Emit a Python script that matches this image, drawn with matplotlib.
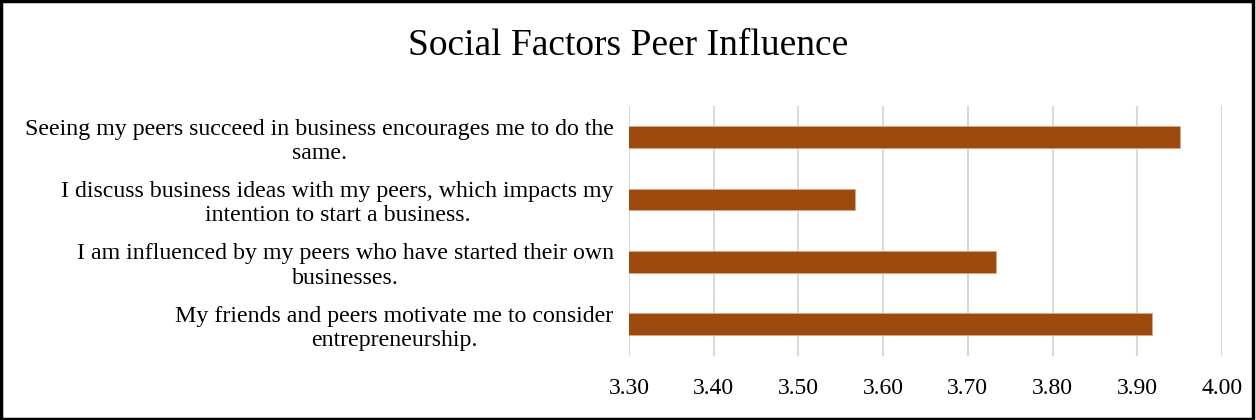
import matplotlib
matplotlib.use("Agg")
import matplotlib.pyplot as plt
from matplotlib.patches import Rectangle

categories = [
    "Seeing my peers succeed in business encourages me to do the\nsame.",
    "I discuss business ideas with my peers, which impacts my\nintention to start a business.",
    "I am influenced by my peers who have started their own\nbusinesses.",
    "My friends and peers motivate me to consider\nentrepreneurship.",
]
values = [3.95, 3.567, 3.733, 3.917]
xticks = [3.30, 3.40, 3.50, 3.60, 3.70, 3.80, 3.90, 4.00]
title = "Social Factors Peer Influence"

plt.rcParams["font.family"] = ["Liberation Serif", "DejaVu Serif"]

fig = plt.figure(figsize=(12.56, 4.2), dpi=100)
ax = fig.add_axes([629 / 1256, 1 - 355.5 / 420, (1222 - 629) / 1256, (355.5 - 106) / 420])

y = list(range(len(categories)))
ax.barh(y, values, height=0.347, color="#9c4a0e", edgecolor="#d9a77c", linewidth=0.6, zorder=3)
ax.set_ylim(len(categories) - 0.5, -0.5)
ax.set_xlim(xticks[0], xticks[-1])
ax.set_xticks(xticks)
ax.set_xticklabels([f"{t:.2f}" for t in xticks], fontsize=17)
ax.set_yticks(y)
ax.set_yticklabels(categories, fontsize=17.2, multialignment="center")
ax.tick_params(axis="both", length=0)
ax.tick_params(axis="x", pad=16.5)
ax.tick_params(axis="y", pad=11)
ax.grid(axis="x", color="#d9d9d9", linewidth=1.5, zorder=0)
for s in ax.spines.values():
    s.set_visible(False)

fig.text(0.5, 1 - 46 / 420, title, ha="center", va="center", fontsize=27)

fig.patches.append(Rectangle((0.001, 0.002), 0.997, 0.995, transform=fig.transFigure,
                             fill=False, edgecolor="black", linewidth=2.5))

fig.savefig("out.png", dpi=100)
